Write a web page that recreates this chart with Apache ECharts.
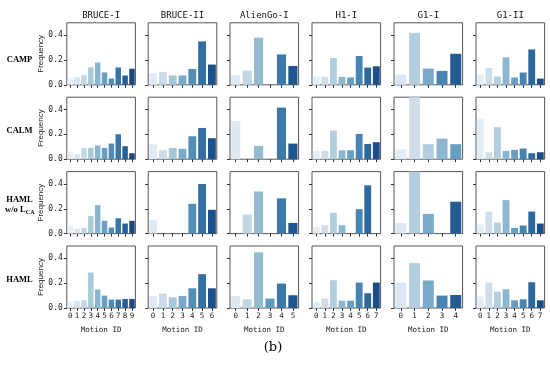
<!DOCTYPE html>
<html>
<head>
<meta charset="utf-8">
<script src="https://cdn.jsdelivr.net/npm/echarts@6/dist/echarts.min.js"></script>
<style>html,body{margin:0;padding:0;background:#fff}#c{width:550px;height:365px}</style>
</head>
<body>
<div id="c"></div>
<script>
// ---- data ----
const robots = ['BRUCE-I', 'BRUCE-II', 'AlienGo-I', 'H1-I', 'G1-I', 'G1-II'];
const methods = ['CAMP', 'CALM', 'HAML w/o LCA', 'HAML'];
const yTicks = [0, 0.2, 0.4];

const CAMP = [
  [0.05, 0.06, 0.077, 0.14, 0.18, 0.10, 0.05, 0.14, 0.075, 0.13],
  [0.093, 0.104, 0.075, 0.075, 0.128, 0.35, 0.163],
  [0.077, 0.115, 0.38, 0, 0.245, 0.152],
  [0.067, 0.064, 0.216, 0.064, 0.059, 0.232, 0.139, 0.149],
  [0.083, 0.419, 0.131, 0.112, 0.25],
  [0.08, 0.136, 0.067, 0.221, 0.059, 0.099, 0.285, 0.05]
];
const CALM = [
  [0.062, 0.04, 0.091, 0.091, 0.11, 0.091, 0.126, 0.201, 0.105, 0.048],
  [0.121, 0.072, 0.091, 0.083, 0.185, 0.252, 0.169],
  [0.309, 0, 0.107, 0, 0.416, 0.126],
  [0.067, 0.067, 0.231, 0.072, 0.072, 0.204, 0.123, 0.137],
  [0.08, 0.51, 0.121, 0.166, 0.121],
  [0.322, 0.056, 0.258, 0.067, 0.075, 0.086, 0.048, 0.056]
];
const HAML_NO_LCA = [
  [0.065, 0.038, 0.046, 0.141, 0.23, 0.103, 0.049, 0.124, 0.081, 0.103],
  [0.111, 0, 0, 0, 0.24, 0.4, 0.192],
  [0, 0.154, 0.34, 0, 0.284, 0.086],
  [0.054, 0.068, 0.168, 0.068, 0, 0.197, 0.389, 0],
  [0.084, 0.52, 0.159, 0, 0.257],
  [0.073, 0.178, 0.089, 0.27, 0.046, 0.065, 0.178, 0.081]
];
const HAML = [
  [0.049, 0.057, 0.062, 0.286, 0.149, 0.1, 0.068, 0.068, 0.073, 0.073],
  [0.097, 0.116, 0.086, 0.097, 0.159, 0.273, 0.159],
  [0.097, 0.07, 0.449, 0.076, 0.197, 0.103],
  [0.049, 0.076, 0.224, 0.059, 0.059, 0.205, 0.119, 0.205],
  [0.205, 0.362, 0.222, 0.1, 0.105],
  [0.092, 0.205, 0.132, 0.151, 0.062, 0.07, 0.208, 0.062]
];
const allRows = [CAMP, CALM, HAML_NO_LCA, HAML];
// palette length per panel (one panel uses a longer palette)
const paletteSize = [
  [10, 7, 6, 8, 5, 8],
  [10, 7, 6, 8, 8, 8],
  [10, 7, 6, 8, 5, 8],
  [10, 7, 6, 8, 5, 8]
];

// ---- colours: matplotlib "Blues" like seaborn palette, desaturated 0.75 ----
const bluesStops = ['#f7fbff','#deebf7','#c6dbef','#9ecae1','#6baed6','#4292c6','#2171b5','#08519c','#08306b'];
function hex2rgb(h){return [1,3,5].map(i=>parseInt(h.substr(i,2),16)/255);}
function cmap(t){
  const p = t*(bluesStops.length-1); const i = Math.min(Math.floor(p), bluesStops.length-2); const f = p-i;
  const a = hex2rgb(bluesStops[i]), b = hex2rgb(bluesStops[i+1]);
  return a.map((v,k)=>v+(b[k]-v)*f);
}
function desat(rgb, prop){
  const [r,g,b] = rgb; const mx=Math.max(r,g,b), mn=Math.min(r,g,b); const l=(mx+mn)/2;
  let h=0,s=0;
  if(mx!==mn){const d=mx-mn; s = l>0.5? d/(2-mx-mn) : d/(mx+mn);
    if(mx===r) h=((g-b)/d+(g<b?6:0)); else if(mx===g) h=(b-r)/d+2; else h=(r-g)/d+4; h/=6;}
  s*=prop;
  function hue(p,q,t){if(t<0)t+=1;if(t>1)t-=1;if(t<1/6)return p+(q-p)*6*t;if(t<1/2)return q;if(t<2/3)return p+(q-p)*(2/3-t)*6;return p;}
  let out;
  if(s===0) out=[l,l,l]; else {const q=l<0.5?l*(1+s):l+s-l*s; const p=2*l-q; out=[hue(p,q,h+1/3),hue(p,q,h),hue(p,q,h-1/3)];}
  return 'rgb('+out.map(v=>Math.round(v*255)).join(',')+')';
}
function palette(n){const res=[];for(let i=1;i<=n;i++){res.push(desat(cmap(i/(n+1)),0.75));}return res;}

// ---- layout ----
const lefts = [66.8, 148.2, 230, 312, 394, 476];
const gw = 68.6;
const tops = [22.8, 97.2, 171.6, 246];
const gh = 62;
const mono = 'DejaVu Sans Mono';
const axisColor = '#333';

const grid = [], xAxis = [], yAxis = [], series = [];
let idx = 0;
allRows.forEach((rowData, r) => {
  rowData.forEach((vals, c) => {
    grid.push({left: lefts[c], top: tops[r], width: gw, height: gh, show: true,
      borderColor: '#555', borderWidth: 1, backgroundColor: 'transparent', containLabel: false});
    const ids = vals.map((_, i) => String(i));
    xAxis.push({type: 'category', gridIndex: idx, data: ids,
      axisLine: {show: false},
      axisTick: {show: true, alignWithLabel: true, length: 3, lineStyle: {color: axisColor, width: 1}},
      axisLabel: {show: r === 3, interval: 0, fontFamily: mono, fontSize: 7.5, color: '#222', margin: 4},
      name: r === 3 ? 'Motion ID' : '', nameLocation: 'middle', nameGap: 18,
      nameTextStyle: {fontFamily: mono, fontSize: 7.5, color: '#222'}
    });
    yAxis.push({type: 'value', gridIndex: idx, min: 0, max: 0.5,
      axisLine: {show: false}, splitLine: {show: false},
      axisTick: {show: true, length: 3, customValues: yTicks, lineStyle: {color: axisColor, width: 1}},
      axisLabel: {show: c === 0, customValues: yTicks, fontFamily: mono, fontSize: 8, color: '#222', margin: 4,
        formatter: v => v.toFixed(1)},
      name: c === 0 ? 'Frequency' : '', nameLocation: 'middle', nameRotate: 90, nameGap: 22.5,
      nameTextStyle: {fontFamily: 'Liberation Sans', fontSize: 8, color: '#222'}
    });
    const pal = palette(paletteSize[r][c]);
    series.push({type: 'bar', xAxisIndex: idx, yAxisIndex: idx, data: vals,
      barCategoryGap: '20%', clip: true, silent: true,
      itemStyle: {color: p => pal[p.dataIndex]}});
    idx++;
  });
});

const graphic = [];
robots.forEach((name, c) => {
  graphic.push({type: 'text', x: lefts[c] + gw / 2, y: 15.5,
    style: {text: name, font: '9px "' + mono + '"', fill: '#111', align: 'center', verticalAlign: 'middle'}});
});
const serifBold = 'bold 8.5px "Liberation Serif"';
const rowLabelY = [60, 131, 0, 280];
[0, 1, 3].forEach(r => {
  graphic.push({type: 'text', x: 19.5, y: rowLabelY[r],
    style: {text: methods[r], font: serifBold, fill: '#000', align: 'center', verticalAlign: 'middle'}});
});
graphic.push({type: 'text', x: 19.5, y: 199.5,
  style: {text: 'HAML', font: serifBold, fill: '#000', align: 'center', verticalAlign: 'middle'}});
graphic.push({type: 'text', x: 5, y: 210,
  style: {text: 'w/o L', font: serifBold, fill: '#000', align: 'left', verticalAlign: 'middle'}});
graphic.push({type: 'text', x: 25.8, y: 212,
  style: {text: 'CA', font: 'bold 6px "Liberation Serif"', fill: '#000', align: 'left', verticalAlign: 'middle'}});
graphic.push({type: 'text', x: 273, y: 348,
  style: {text: '(b)', font: '13px "DejaVu Serif"', fill: '#000', align: 'center', verticalAlign: 'middle'}});

const chart = echarts.init(document.getElementById('c'), null, {renderer: 'canvas'});
chart.setOption({animation: false, backgroundColor: '#fff', grid, xAxis, yAxis, series, graphic});
</script>
</body>
</html>
